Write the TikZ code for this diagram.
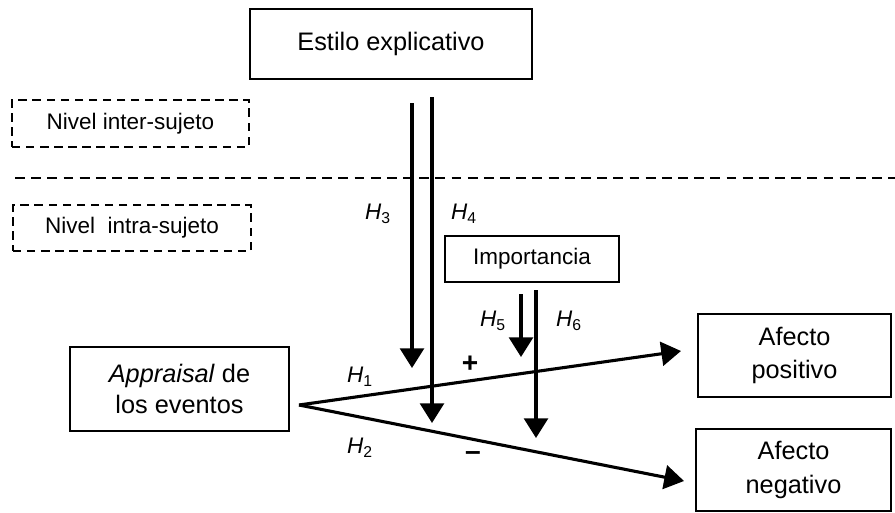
\documentclass[tikz,border=0pt]{standalone}
\usepackage{fontspec}
\setmainfont{Liberation Sans}
\usetikzlibrary{arrows.meta}

\begin{document}
\begin{tikzpicture}[x=0.025cm, y=-0.025cm,
	caja/.style={draw, line width=0.9pt, align=center, inner sep=0pt, font=\fontsize{18}{24}\selectfont},
	nivel/.style={draw, dash pattern=on 6pt off 4pt, line width=1.5pt, inner sep=0pt, font=\fontsize{16}{19}\selectfont},
	flecha/.style={line width=2.2pt, -{Triangle[length=14pt,width=17pt]}},
	hip/.style={font=\fontsize{16}{19}\selectfont},
	signo/.style={font=\fontsize{20}{22}\selectfont\bfseries}]
	\useasboundingbox (0,0) rectangle (895,513);
	
	% cajas
	\node[caja, minimum width=7.05cm, minimum height=1.75cm] (estilo) at (391,44) {Estilo explicativo};
	\node[nivel, minimum width=5.925cm, minimum height=1.175cm] (inter) at (130.5,123.5) {Nivel inter-sujeto};
	\node[nivel, minimum width=5.95cm, minimum height=1.15cm] (intra) at (132,228) {Nivel\ \ intra-sujeto};
	\node[caja, minimum width=4.35cm, minimum height=1.15cm, font=\fontsize{16}{19}\selectfont] (importancia) at (532,259) {Importancia};
	\node[caja, minimum width=5.475cm, minimum height=2.1cm, font=\fontsize{18}{22}\selectfont] (appraisal) at (179.5,389) {\textit{Appraisal} de\\ los eventos};
	\node[caja, minimum width=4.825cm, minimum height=2.075cm] (afectopos) at (794.5,355.5) {Afecto\\ positivo};
	\node[caja, minimum width=4.875cm, minimum height=2.05cm] (afectoneg) at (793.5,470) {Afecto\\ negativo};
	
	% separador
	\coordinate (sepa) at (15,178);
	\coordinate (sepb) at (895,178);
	\draw[dash pattern=on 7pt off 4.5pt, line width=1.5pt] (sepa) -- (sepb);
	
	% flechas
	\coordinate (h3a) at (412,103);
	\coordinate (h3b) at (412,368);
	\coordinate (h4a) at (432,97);
	\coordinate (h4b) at (432,423);
	\coordinate (h5a) at (521,294);
	\coordinate (h5b) at (521,357);
	\coordinate (h6a) at (536,290);
	\coordinate (h6b) at (536,438);
	\coordinate (origen) at (299,405);
	\coordinate (pos) at (681,351);
	\coordinate (neg) at (684,481);
	
	\draw[flecha] (h3a) -- (h3b);
	\draw[flecha] (h4a) -- (h4b);
	\draw[flecha] (h5a) -- (h5b);
	\draw[flecha] (h6a) -- (h6b);
	\draw[flecha] (origen) -- (pos);
	\draw[flecha] (origen) -- (neg);
	
	% etiquetas
	\node[hip] (H1) at (360,377) {\textit{H}\textsubscript{1}};
	\node[hip] (H2) at (360,448) {\textit{H}\textsubscript{2}};
	\node[hip] (H3) at (378,214) {\textit{H}\textsubscript{3}};
	\node[hip] (H4) at (464,214) {\textit{H}\textsubscript{4}};
	\node[hip] (H5) at (493,321) {\textit{H}\textsubscript{5}};
	\node[hip] (H6) at (569,321) {\textit{H}\textsubscript{6}};
	\node[signo] (mas) at (470,364) {+};
	\node[signo] (menos) at (473,456) {–};
\end{tikzpicture}
\end{document}
